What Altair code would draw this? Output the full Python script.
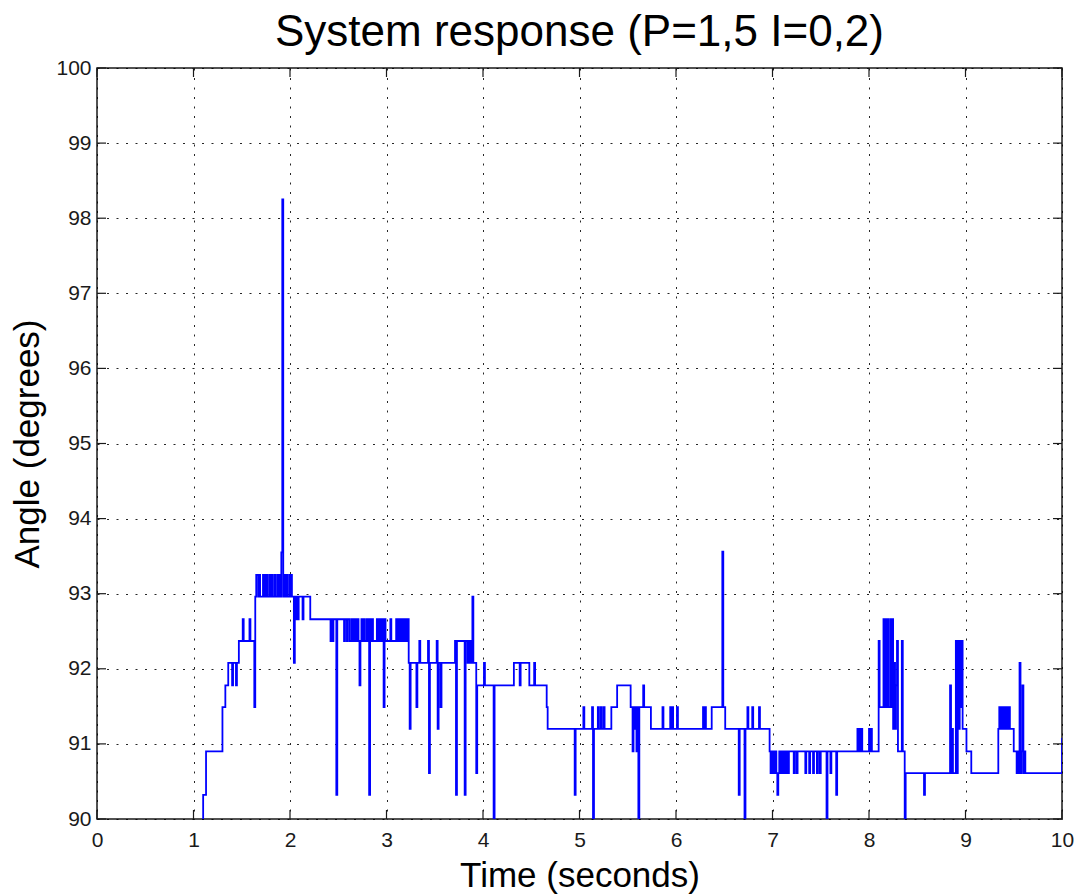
import altair as alt
import pandas as pd

TITLE = "System response (P=1,5 I=0,2)"
X_TITLE = "Time (seconds)"
Y_TITLE = "Angle (degrees)"
x_ticks = list(range(0, 11))
y_ticks = list(range(90, 101))

# Sampled angle (time in s, angle in degrees); each value holds until the next sample.
rise = [
    (0.00, 89.70),
    (1.10, 90.32), (1.13, 90.90), (1.30, 91.49), (1.33, 91.78), (1.36, 92.08),
    (1.40, 91.78), (1.41, 92.08), (1.44, 91.78), (1.45, 92.08), (1.47, 92.37),
    (1.51, 92.66), (1.52, 92.37), (1.58, 92.66), (1.59, 92.37), (1.63, 91.49),
]

plateau = [
    (1.64, 92.96), (1.65, 93.25), (1.67, 92.96), (1.68, 93.25), (1.69, 92.96),
    (1.72, 93.25), (1.73, 92.96), (1.74, 93.25), (1.75, 92.96), (1.76, 93.25),
    (1.77, 92.96), (1.79, 93.25), (1.80, 92.96), (1.81, 93.25), (1.82, 92.96),
    (1.84, 93.25), (1.85, 92.96), (1.87, 93.25), (1.88, 92.96), (1.89, 93.25),
    (1.90, 92.96), (1.91, 93.55), (1.92, 98.25), (1.93, 92.96), (1.94, 93.25),
    (1.95, 92.96), (1.96, 93.25), (1.97, 92.96), (1.99, 93.25), (2.00, 92.96),
    (2.01, 93.25), (2.02, 92.96), (2.04, 92.08), (2.05, 92.96), (2.06, 92.66),
    (2.07, 92.96), (2.08, 92.66), (2.09, 92.96), (2.13, 92.66), (2.14, 92.96),
    (2.21, 92.66),
]

band_92 = [
    (2.42, 92.37), (2.43, 92.66), (2.44, 92.37), (2.45, 92.66), (2.48, 90.32),
    (2.49, 92.66), (2.56, 92.37), (2.57, 92.66), (2.59, 92.37), (2.60, 92.66),
    (2.62, 92.37), (2.64, 92.66), (2.65, 92.37), (2.66, 92.66), (2.67, 92.37),
    (2.68, 92.66), (2.69, 92.37), (2.70, 92.66), (2.71, 92.37), (2.72, 91.78),
    (2.73, 92.37), (2.74, 92.66), (2.75, 92.37), (2.76, 92.66), (2.77, 92.37),
    (2.79, 92.66), (2.80, 92.37), (2.81, 92.66), (2.82, 90.32), (2.83, 92.66),
    (2.84, 92.37), (2.85, 92.66), (2.86, 92.37), (2.90, 92.66), (2.91, 92.37),
    (2.92, 92.66), (2.93, 92.37), (2.94, 92.66), (2.95, 92.37), (2.96, 92.66),
    (2.97, 91.49), (2.98, 92.66), (2.99, 92.37), (3.04, 92.66), (3.05, 92.37),
    (3.10, 92.66), (3.11, 92.37), (3.12, 92.66), (3.13, 92.37), (3.14, 92.66),
    (3.15, 92.37), (3.16, 92.66), (3.17, 92.37), (3.18, 92.66), (3.19, 92.37),
    (3.20, 92.66), (3.21, 92.37), (3.22, 92.66),
]

descent = [
    (3.23, 92.08), (3.24, 91.20), (3.25, 92.08), (3.31, 91.49), (3.32, 92.08),
    (3.34, 92.37), (3.35, 92.08), (3.43, 92.37), (3.44, 90.61), (3.45, 92.08),
    (3.52, 92.37), (3.53, 91.20), (3.54, 92.08), (3.56, 91.49), (3.57, 92.08),
    (3.71, 92.37), (3.72, 90.32), (3.73, 92.37), (3.81, 90.32), (3.82, 92.37),
    (3.84, 92.08), (3.85, 92.37), (3.86, 92.08), (3.87, 92.37), (3.88, 92.08),
    (3.89, 92.96), (3.90, 92.08), (3.93, 90.61), (3.94, 91.78),
    (4.01, 92.08), (4.02, 91.78), (4.11, 89.70), (4.12, 91.78), (4.32, 92.08),
    (4.38, 91.78), (4.39, 92.08), (4.48, 91.78), (4.53, 92.08), (4.54, 91.78),
    (4.66, 91.49), (4.67, 91.20),
]

middle = [
    (4.95, 90.32), (4.96, 91.20), (5.04, 91.49), (5.05, 91.20), (5.13, 91.49),
    (5.14, 89.70), (5.15, 91.20), (5.19, 91.49), (5.20, 91.20), (5.22, 91.49),
    (5.23, 91.20), (5.25, 91.49), (5.26, 91.20), (5.33, 91.49), (5.39, 91.78),
    (5.53, 91.49), (5.55, 90.90), (5.56, 91.49), (5.57, 91.20), (5.58, 91.49),
    (5.59, 90.90), (5.60, 91.49), (5.61, 89.70), (5.62, 91.49), (5.66, 91.78),
    (5.67, 91.49), (5.74, 91.20), (5.86, 91.49), (5.87, 91.20), (5.94, 91.49),
    (5.95, 91.20), (5.96, 91.49), (5.97, 91.20), (6.01, 91.49), (6.02, 91.20),
    (6.28, 91.49), (6.29, 91.20), (6.30, 91.49), (6.31, 91.20), (6.37, 91.49),
    (6.48, 93.56), (6.49, 91.49), (6.51, 91.20), (6.65, 90.32), (6.66, 91.20),
    (6.71, 89.70), (6.72, 91.20), (6.74, 91.49), (6.75, 91.20), (6.79, 91.49),
    (6.80, 91.20), (6.86, 91.49), (6.87, 91.20),
]

low = [
    (6.97, 90.90), (6.98, 90.61), (6.99, 90.90), (7.00, 90.61), (7.01, 90.90),
    (7.02, 90.61), (7.03, 90.90), (7.04, 90.61), (7.05, 90.32), (7.06, 90.61),
    (7.07, 90.90), (7.08, 90.61), (7.09, 90.90), (7.10, 90.61), (7.11, 90.90),
    (7.12, 90.61), (7.13, 90.90), (7.14, 90.61), (7.15, 90.90), (7.16, 90.61),
    (7.17, 90.90), (7.22, 90.61), (7.23, 90.90), (7.25, 90.61), (7.26, 90.90),
    (7.34, 90.61), (7.35, 90.90), (7.38, 90.61), (7.39, 90.90), (7.42, 90.61),
    (7.43, 90.90), (7.46, 90.61), (7.47, 90.90), (7.49, 90.61), (7.50, 90.90),
    (7.56, 89.70), (7.57, 90.90), (7.60, 90.61), (7.61, 90.90), (7.66, 90.32),
    (7.67, 90.90), (7.88, 91.20), (7.89, 90.90), (7.90, 91.20), (7.91, 90.90),
    (7.92, 91.20), (7.93, 90.90), (8.00, 91.20), (8.01, 90.90), (8.02, 91.20),
    (8.03, 90.90),
]

excursion = [
    (8.10, 92.37), (8.11, 91.49), (8.15, 92.66), (8.16, 91.49), (8.17, 92.66),
    (8.18, 91.49), (8.19, 92.66), (8.20, 91.49), (8.22, 92.66), (8.23, 91.49),
    (8.24, 92.66), (8.25, 91.20), (8.26, 92.08), (8.27, 91.20), (8.28, 91.78),
    (8.29, 92.37), (8.30, 90.90), (8.34, 92.37), (8.35, 90.90), (8.37, 89.70),
    (8.38, 90.61),
]

tail = [
    (8.57, 90.32), (8.58, 90.61), (8.84, 91.78), (8.85, 90.61), (8.86, 91.20),
    (8.87, 90.61), (8.90, 92.37), (8.91, 90.61), (8.92, 92.37), (8.93, 91.20),
    (8.94, 92.37), (8.95, 91.49), (8.96, 92.37), (8.97, 91.20), (9.01, 90.90),
    (9.06, 90.61), (9.34, 91.20), (9.35, 91.49), (9.36, 91.20), (9.37, 91.49),
    (9.38, 91.20), (9.39, 91.49), (9.40, 91.20), (9.41, 91.49), (9.42, 91.20),
    (9.43, 91.49), (9.44, 91.20), (9.45, 91.49), (9.46, 91.20), (9.50, 90.90),
    (9.53, 90.61), (9.54, 90.90), (9.55, 90.61), (9.56, 92.08), (9.57, 90.61),
    (9.58, 90.90), (9.59, 91.78), (9.60, 90.61), (9.61, 90.90), (9.62, 90.61),
    (10.00, 91.08),
]

samples = rise + plateau + band_92 + descent + middle + low + excursion + tail
df = pd.DataFrame(samples, columns=["time", "angle"])
df["seq"] = range(len(df))

W, H = 965, 751
TICK = 9
FONT = "Liberation Sans"
INK = "#1a1a1a"

x_scale = alt.Scale(domain=[0, 10], nice=False, zero=False)
y_scale = alt.Scale(domain=[90, 100], nice=False, zero=False)

axis_style = dict(grid=True, gridDash=[2, 7.5], gridColor="#000000",
                  gridWidth=1, gridOpacity=0.85, ticks=False, domain=False,
                  labelFont=FONT, labelFontSize=21, labelColor=INK,
                  labelFlush=False, labelOverlap=False, labelBound=False,
                  titleFont=FONT, titleFontSize=35, titleFontWeight="normal",
                  titleColor="#000000")

x_axis = alt.Axis(values=x_ticks, format="d", title=X_TITLE,
                  labelPadding=10, titlePadding=8, **axis_style)
y_axis = alt.Axis(values=y_ticks, format="d", title=Y_TITLE,
                  labelPadding=6, titlePadding=10, **axis_style)

line = alt.Chart(df).mark_line(
    interpolate="step-after", color="#0000ff", strokeWidth=1.8, clip=True
).encode(
    x=alt.X("time:Q", scale=x_scale, axis=x_axis),
    y=alt.Y("angle:Q", scale=y_scale, axis=y_axis),
    order="seq:Q",
)

# Inward tick marks on all four sides of the box
xt = pd.DataFrame({"time": x_ticks})
yt = pd.DataFrame({"angle": y_ticks})
tick_mark = dict(color=INK, strokeWidth=1.2)

bottom_ticks = alt.Chart(xt).mark_rule(**tick_mark).encode(
    x=alt.X("time:Q", scale=x_scale, axis=x_axis),
    y=alt.value(H), y2=alt.value(H - TICK))
top_ticks = alt.Chart(xt).mark_rule(**tick_mark).encode(
    x=alt.X("time:Q", scale=x_scale, axis=x_axis),
    y=alt.value(0), y2=alt.value(TICK))
left_ticks = alt.Chart(yt).mark_rule(**tick_mark).encode(
    y=alt.Y("angle:Q", scale=y_scale, axis=y_axis),
    x=alt.value(0), x2=alt.value(TICK))
right_ticks = alt.Chart(yt).mark_rule(**tick_mark).encode(
    y=alt.Y("angle:Q", scale=y_scale, axis=y_axis),
    x=alt.value(W - TICK), x2=alt.value(W))

chart = alt.layer(line, bottom_ticks, top_ticks, left_ticks, right_ticks).properties(
    width=W, height=H,
    padding={"left": 97, "top": 68, "right": 22, "bottom": 76},
    autosize=alt.AutoSizeParams(type="none"),
    title=alt.TitleParams(TITLE, font=FONT, fontSize=44, fontWeight="normal",
                          color="#000000", anchor="middle", frame="group",
                          offset=2),
    background="white",
).configure_view(stroke=INK, strokeWidth=1.5)

chart.save("out.html", embed_options={"renderer": "svg", "actions": False})
